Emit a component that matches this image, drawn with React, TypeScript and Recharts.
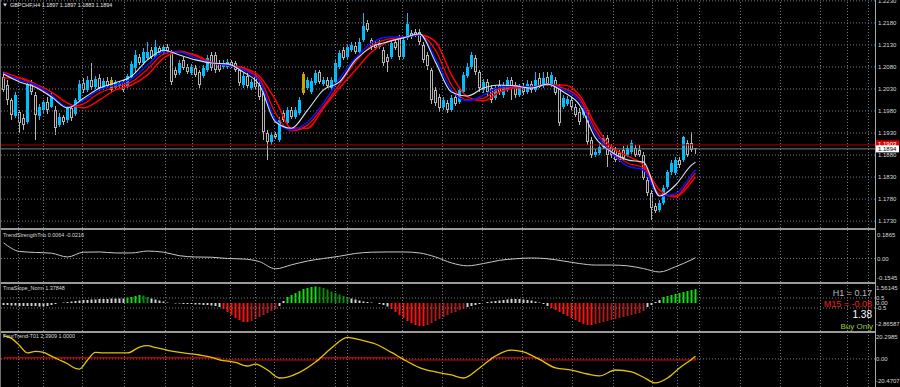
import React from "react";
import { ComposedChart, Bar, Line, XAxis, YAxis, ReferenceLine, Cell } from "recharts";

// ---------- price candles (GBPCHF H4) ----------
const opens = [1.2057,1.2039,1.2005,1.1969,1.1978,1.1964,1.1955,1.2041,1.2016,1.1969,1.1982,1.2000,1.1989,1.1982,1.1948,1.1966,1.1960,1.1987,1.1973,1.2005,
1.2044,1.2028,1.2050,1.2034,1.2055,1.2032,1.2048,1.2050,1.2032,1.2037,1.2046,1.2037,1.2057,1.2078,1.2103,1.2089,1.2100,1.2118,1.2103,1.2123,
1.2112,1.2125,1.2114,1.2073,1.2066,1.2096,1.2080,1.2066,1.2078,1.2068,1.2059,1.2073,1.2107,1.2107,1.2089,1.2080,1.2080,1.2091,1.2089,1.2073,
1.2039,1.2059,1.2032,1.2059,1.2039,1.2021,1.1930,1.1910,1.1928,1.1914,1.1975,1.1953,1.1982,1.1966,1.1975,1.2021,1.2032,1.2023,1.2044,1.2068,
1.2041,1.2050,1.2032,1.2046,1.2080,1.2118,1.2103,1.2118,1.2128,1.2114,1.2141,1.2180,1.2141,1.2132,1.2125,1.2118,1.2103,1.2103,1.2137,1.2148,
1.2103,1.2146,1.2157,1.2159,1.2159,1.2130,1.2107,1.2073,1.2028,1.2012,1.1989,1.1998,1.1982,1.2012,1.2000,1.2023,1.2059,1.2080,1.2100,1.2068,
1.2028,1.2046,1.2032,1.2009,1.2039,1.2016,1.2028,1.2050,1.2039,1.2016,1.2037,1.2023,1.2041,1.2028,1.2055,1.2037,1.2057,1.2039,1.2050,1.2034,
1.1989,1.1996,1.2005,1.1989,1.1978,1.1971,1.1982,1.1914,1.1880,1.1885,1.1898,1.1919,1.1898,1.1892,1.1885,1.1892,1.1880,1.1887,1.1896,1.1892,
1.1880,1.1823,1.1794,1.1764,1.1755,1.1771,1.1808,1.1842,1.1839,1.1869,1.1869,1.1907,1.1907,1.1897];
const highs = [1.2068,1.2050,1.2009,1.2023,1.1982,1.1973,1.2050,1.2050,1.2023,1.1996,1.2005,1.2012,1.2023,1.1991,1.1975,1.1971,1.1991,1.1994,1.2009,1.2050,
1.2055,1.2059,1.2089,1.2059,1.2064,1.2055,1.2057,1.2057,1.2050,1.2048,1.2050,1.2064,1.2094,1.2118,1.2109,1.2123,1.2137,1.2125,1.2141,1.2128,
1.2130,1.2132,1.2118,1.2080,1.2096,1.2103,1.2087,1.2087,1.2084,1.2073,1.2084,1.2107,1.2114,1.2114,1.2096,1.2096,1.2098,1.2096,1.2094,1.2078,
1.2066,1.2066,1.2053,1.2066,1.2046,1.2028,1.1937,1.1932,1.1932,1.1966,1.1982,1.1989,1.1989,1.1989,1.2012,1.2068,1.2057,1.2055,1.2073,1.2073,
1.2057,1.2057,1.2057,1.2096,1.2118,1.2125,1.2132,1.2137,1.2137,1.2146,1.2202,1.2187,1.2146,1.2139,1.2141,1.2125,1.2109,1.2141,1.2141,1.2153,
1.2148,1.2202,1.2164,1.2166,1.2166,1.2137,1.2114,1.2078,1.2034,1.2019,1.2012,1.2005,1.2016,1.2019,1.2034,1.2068,1.2089,1.2114,1.2107,1.2073,
1.2053,1.2053,1.2039,1.2039,1.2050,1.2046,1.2057,1.2057,1.2046,1.2041,1.2044,1.2050,1.2048,1.2068,1.2066,1.2068,1.2068,1.2068,1.2057,1.2041,
1.2016,1.2014,1.2012,1.1996,1.1987,1.1994,1.1987,1.1921,1.1894,1.1905,1.1925,1.1925,1.1905,1.1898,1.1892,1.1901,1.1903,1.1914,1.1903,1.1903,
1.1887,1.1830,1.1801,1.1771,1.1778,1.1812,1.1846,1.1869,1.1876,1.1876,1.1923,1.1914,1.1932,1.1897];
const lows = [1.2023,1.1994,1.1960,1.1964,1.1930,1.1937,1.1950,1.2016,1.1914,1.1960,1.1975,1.1973,1.1987,1.1925,1.1944,1.1948,1.1953,1.1957,1.1969,1.2000,
1.2021,1.2023,1.2028,1.2030,1.2025,1.2028,1.2032,1.2023,1.2028,1.2032,1.2023,1.2032,1.2053,1.2068,1.2084,1.2084,1.2096,1.2098,1.2100,1.2107,
1.2107,1.2112,1.2039,1.2055,1.2062,1.2073,1.2064,1.2062,1.2057,1.2032,1.2055,1.2068,1.2071,1.2066,1.2068,1.2075,1.2075,1.2078,1.2068,1.2037,
1.2032,1.2032,1.2028,1.2030,1.2005,1.1914,1.1869,1.1903,1.1916,1.1910,1.1955,1.1948,1.1962,1.1962,1.1971,1.2016,1.2028,1.2019,1.2039,1.2041,
1.2037,1.2032,1.2028,1.2041,1.2075,1.2096,1.2098,1.2114,1.2109,1.2109,1.2137,1.2159,1.2118,1.2118,1.2121,1.2082,1.2068,1.2098,1.2118,1.2096,
1.2098,1.2141,1.2143,1.2148,1.2130,1.2089,1.2073,1.1996,1.1991,1.1978,1.1982,1.1975,1.1978,1.1991,1.1996,1.2019,1.2055,1.2075,1.2062,1.2023,
1.2021,1.2014,1.1998,1.2005,1.2016,1.2009,1.2023,1.2005,1.2009,1.2012,1.2016,1.2019,1.2021,1.2023,1.2032,1.2032,1.2037,1.2034,1.2016,1.1946,
1.1985,1.1991,1.1982,1.1966,1.1948,1.1964,1.1903,1.1873,1.1876,1.1880,1.1894,1.1853,1.1873,1.1864,1.1864,1.1869,1.1876,1.1882,1.1876,1.1876,
1.1823,1.1787,1.1733,1.1748,1.1751,1.1767,1.1803,1.1835,1.1835,1.1851,1.1864,1.1876,1.1887,1.1883];
const closes = [1.2028,1.2005,1.1971,1.2016,1.1953,1.1948,1.2041,1.2023,1.1971,1.1989,1.2000,1.1982,1.2014,1.1941,1.1966,1.1955,1.1987,1.1964,1.2005,1.2041,
1.2028,1.2050,1.2034,1.2053,1.2032,1.2048,1.2037,1.2028,1.2046,1.2044,1.2028,1.2059,1.2087,1.2107,1.2089,1.2114,1.2114,1.2103,1.2125,1.2112,
1.2125,1.2116,1.2046,1.2062,1.2089,1.2078,1.2068,1.2080,1.2062,1.2039,1.2078,1.2100,1.2078,1.2073,1.2073,1.2089,1.2091,1.2082,1.2073,1.2044,
1.2059,1.2037,1.2046,1.2034,1.2012,1.1932,1.1910,1.1925,1.1921,1.1960,1.1960,1.1982,1.1966,1.1982,1.2005,1.2064,1.2050,1.2048,1.2066,1.2046,
1.2050,1.2037,1.2050,1.2089,1.2112,1.2100,1.2125,1.2130,1.2114,1.2137,1.2173,1.2164,1.2125,1.2123,1.2134,1.2089,1.2091,1.2134,1.2123,1.2103,
1.2141,1.2178,1.2148,1.2153,1.2137,1.2096,1.2082,1.2005,1.1998,1.1987,1.2005,1.1982,1.2009,1.1996,1.2028,1.2062,1.2080,1.2107,1.2068,1.2032,
1.2046,1.2023,1.2005,1.2032,1.2023,1.2039,1.2050,1.2032,1.2016,1.2034,1.2023,1.2041,1.2028,1.2050,1.2037,1.2055,1.2041,1.2062,1.2021,1.1953,
1.2009,1.2007,1.1989,1.1971,1.1955,1.1987,1.1910,1.1880,1.1887,1.1898,1.1919,1.1880,1.1880,1.1869,1.1869,1.1873,1.1896,1.1907,1.1880,1.1880,
1.1828,1.1794,1.1760,1.1753,1.1771,1.1805,1.1842,1.1862,1.1869,1.1857,1.1921,1.1880,1.1892,1.1894];
const yellowCandles = [27, 75];

// ---------- moving averages (sampled every 4 bars) ----------
const maIdx = [0,4,8,12,16,20,24,28,32,36,40,44,48,52,56,60,64,68,72,76,80,84,88,92,96,100,104,108,112,116,120,124,128,132,136,140,144,148,152,156,160,164,168,172,173];
const maWhite = [1.2064,1.2046,1.2034,1.2012,1.1987,1.2009,1.2032,1.2044,1.2059,1.2096,1.2118,1.2107,1.2096,1.2089,1.2087,1.2068,1.2039,1.1955,1.1941,1.1982,1.2028,1.2046,1.2096,1.2125,1.2137,1.2146,1.2155,1.2091,1.2023,1.2014,1.2032,1.2039,1.2037,1.2032,1.2041,1.2023,1.1994,1.1919,1.1887,1.1869,1.1864,1.1787,1.1812,1.1857,1.1864];
const maBlue = [1.2066,1.2050,1.2039,1.2016,1.1989,1.2005,1.2028,1.2039,1.2053,1.2084,1.2114,1.2114,1.2100,1.2089,1.2084,1.2073,1.2048,1.1960,1.1937,1.1955,1.1998,1.2053,1.2100,1.2134,1.2148,1.2148,1.2153,1.2100,1.2028,1.2003,1.2016,1.2034,1.2037,1.2034,1.2041,1.2028,1.2003,1.1930,1.1885,1.1855,1.1846,1.1787,1.1792,1.1835,1.1846];
const maRedFast = [1.2068,1.2055,1.2037,1.2014,1.1989,1.1996,1.2021,1.2034,1.2046,1.2075,1.2109,1.2116,1.2105,1.2089,1.2084,1.2075,1.2053,1.1975,1.1935,1.1948,1.1991,1.2041,1.2091,1.2128,1.2143,1.2148,1.2153,1.2118,1.2039,1.2005,1.2009,1.2030,1.2034,1.2034,1.2041,1.2032,1.2009,1.1937,1.1889,1.1862,1.1851,1.1792,1.1787,1.1828,1.1839];
const maRedSlow = [1.2055,1.2055,1.2041,1.2023,1.1998,1.1987,1.2005,1.2028,1.2039,1.2062,1.2100,1.2114,1.2107,1.2091,1.2084,1.2078,1.2059,1.2005,1.1941,1.1941,1.1987,1.2032,1.2073,1.2114,1.2137,1.2146,1.2153,1.2137,1.2062,1.2012,1.2003,1.2023,1.2032,1.2034,1.2039,1.2039,1.2016,1.1948,1.1898,1.1878,1.1857,1.1801,1.1785,1.1819,1.1830];
const redLevel = 1.1903;
const bidLevel = 1.1894;
const priceTicks = [1.223, 1.218, 1.213, 1.208, 1.203, 1.198, 1.193, 1.188, 1.183, 1.178, 1.173];

// ---------- indicator windows ----------
const trendStrength = [0.125,0.056,0.048,0.042,0.012,0.05,0.052,0.044,0.044,0.059,0.05,0.022,0.012,0.01,0.0,-0.004,-0.025,-0.082,-0.05,-0.02,0.0,0.018,0.04,0.05,0.052,0.052,0.044,0.012,-0.035,-0.058,-0.04,-0.015,-0.002,0.004,-0.002,-0.02,-0.04,-0.052,-0.052,-0.058,-0.08,-0.107,-0.065,-0.01,0.0064];
const tsTicks = [0.1865, 0, -0.1545];

const tmaSlope = [-0.2,-0.2,-0.25,-0.25,-0.3,-0.3,-0.3,-0.3,-0.3,-0.35,-0.35,-0.3,
-0.2,-0.1,0,0.05,0.1,0.15,0.2,0.25,0.3,0.3,0.35,0.35,0.4,0.4,0.4,0.45,0.45,0.45,0.45,
0.55,0.6,0.7,0.8,0.75,0.6,
0.45,0.35,0.25,0.15,
0.05,0,-0.05,-0.05,-0.1,-0.1,-0.1,-0.15,-0.15,-0.2,-0.2,-0.25,-0.3,-0.4,
-0.6,-0.9,-1.2,-1.5,-1.7,-1.9,-1.9,-1.8,-1.6,-1.4,-1.2,-1.0,-0.8,-0.6,
-0.3,0.2,
0.6,0.8,1.0,1.2,1.4,1.5,1.6,1.65,1.6,1.5,1.35,1.15,1.0,0.85,0.7,0.6,
0.45,0.35,0.25,0.15,0.1,0.05,0,-0.1,-0.2,-0.35,
-0.6,-0.9,-1.2,-1.5,-1.8,-2.0,-2.2,-2.3,-2.3,-2.2,-2.0,-1.8,-1.6,-1.4,-1.2,-1.0,-0.9,-0.7,-0.6,
-0.4,-0.3,-0.2,-0.1,0,0.1,0.15,0.2,0.25,0.3,
0.35,0.4,0.4,0.4,0.35,0.3,0.25,0.15,0.05,
-0.1,-0.3,-0.5,-0.7,-0.9,-1.1,-1.3,-1.5,-1.7,-1.9,-2.1,-2.2,-2.2,-2.1,-2.0,-1.9,-1.8,-1.7,-1.6,-1.5,-1.4,-1.3,-1.2,-1.1,-1.0,-0.8,
-0.4,-0.2,0.1,0.3,
0.6,0.7,0.8,0.9,1.0,1.1,1.2,1.3,1.37848];
const tmaTicks = [1.56145, 0.5, 0, -0.5, -2.86587];
const tmaTickText = ["1.56145", "0.5", "0.00", "-0.5", "-2.86587"];

const fourTrendIdx = [0,2,4,6,8,10,12,14,16,18,19,21,23,25,28,31,34,36,38,41,45,49,52,54,58,61,63,66,69,71,74,78,82,86,89,93,97,100,104,108,112,115,119,123,127,130,134,138,142,146,149,153,157,160,163,166,169,172,173];
const fourTrendVal = [21.5,19.0,12.5,5.5,7.0,6.0,2.5,-1.0,-4.5,-8.8,-9.4,-1.0,6.0,5.5,5.5,5.5,11.0,12.3,10.5,8.0,5.5,3.6,1.5,-0.8,-3.3,-6.6,-4.8,-10.3,-17.7,-16.8,-12.5,-2.9,10.1,20.0,17.8,13.8,6.0,-0.5,-8.0,-12.1,-14.9,-17.7,-8.4,2.7,8.2,6.4,-0.5,-8.4,-10.3,-14.0,-15.8,-10.3,-12.1,-17.0,-22.3,-17.7,-8.4,-0.5,2.3909];
const signalIdx = [0, 54, 79, 100, 122, 134, 173];
const signalVal = [1, -1, 1, -1, 1, -1, 1];
const ftTicks = [20.2985, 0, -20.4707];

// vertical grid (bar positions, incl. the empty future area)
const gridBars = [3.75, 10.0, 19.75, 30.25, 40.5, 47.25, 56.75, 63.0, 67.75, 83.0, 86.0, 99.75, 109.75, 119.75, 129.75, 142.25, 152.5, 162.25, 168.5, 174.0, 184.25, 194.25, 204.25, 211.0, 216.25];

// ---------- build rows ----------
const rows: any[] = opens.map((o, i) => ({
  i,
  o, h: highs[i], l: lows[i], c: closes[i],
  range: [lows[i], highs[i]],
  yellow: yellowCandles.includes(i),
  slope: tmaSlope[i],
}));
maIdx.forEach((b, k) => {
  rows[b].white = maWhite[k];
  rows[b].blue = maBlue[k];
  rows[b].redFast = maRedFast[k];
  rows[b].redSlow = maRedSlow[k];
  rows[b].ts = trendStrength[k];
});
fourTrendIdx.forEach((b, k) => { rows[b].ft = fourTrendVal[k]; });
signalIdx.forEach((b, k) => { rows[b].sig = signalVal[k]; });

const BG = "#000000";
const GRID = "#6f7a85";
const AXT = "#d8d8d8";
const BULL = "#00bfff";
const BEAR = "#b4b4b4";
const YEL = "#c8a800";
const FONT = "'Liberation Sans', Arial, sans-serif";
const X_DOMAIN: [number, number] = [-0.875, 217.875];

const Candle = (props: any) => {
  let { x, y, width, height, payload } = props;
  if (height < 0) { y = y + height; height = -height; }
  const { o, h, l, c, yellow } = payload;
  const span = h - l || 1e-9;
  const k = height / span;
  const top = y + (h - Math.max(o, c)) * k;
  const bot = y + (h - Math.min(o, c)) * k;
  const bh = Math.max(1, bot - top);
  const bull = c >= o;
  const col = yellow ? YEL : bull ? BULL : BEAR;
  const cx = Math.round(x + width / 2 - 0.5);
  return (
    <g shapeRendering="crispEdges">
      <rect x={cx} y={y} width={1} height={Math.max(0, top - y)} fill={col} />
      <rect x={cx} y={top + bh} width={1} height={Math.max(0, y + height - top - bh)} fill={col} />
      <rect x={x} y={top} width={width} height={bh} fill={col} />
      {!bull && !yellow && bh > 2 ? (
        <rect x={x + 1} y={top + 1} width={Math.max(0, width - 2)} height={bh - 2} fill="#000" />
      ) : null}
    </g>
  );
};

const PriceTag = (fill: string, textFill: string, txt: string, dy: number) => (props: any) => {
  const vb = props.viewBox || {};
  const x0 = vb.x + vb.width + 1;
  const y0 = vb.y + dy;
  return (
    <g>
      <rect x={x0} y={y0 - 3.5} width={23} height={7} fill={fill} />
      <text x={x0 + 2} y={y0 + 2.2} fontSize={6} fontFamily={FONT} fill={textFill}>{txt}</text>
    </g>
  );
};

const vGrid = () =>
  gridBars.map((g) => (
    <ReferenceLine key={"vg" + g} x={g} stroke={GRID} strokeDasharray="1 2" strokeWidth={1} />
  ));

const xAxis = <XAxis type="number" dataKey="i" domain={X_DOMAIN} hide allowDataOverflow />;

const tickStyle = { fill: AXT, fontSize: 6, fontFamily: FONT };

function MainPanel() {
  return (
    <ComposedChart width={900} height={228} data={rows} margin={{ top: 0, right: 0, bottom: 0, left: 0 }}>
      {xAxis}
      <YAxis orientation="right" width={25} domain={[1.17144, 1.2232]} ticks={priceTicks} interval={0}
        tickLine={false} tickSize={0} axisLine={false} tickMargin={3} tick={tickStyle} allowDataOverflow
        tickFormatter={(v: number) => v.toFixed(4)} />
      {vGrid()}
      {priceTicks.map((t) => (
        <ReferenceLine key={"hg" + t} y={t} stroke={GRID} strokeDasharray="1 2" />
      ))}
      <Bar dataKey="range" barSize={3} shape={Candle} isAnimationActive={false} />
      <Line dataKey="redSlow" stroke="#ff0000" strokeWidth={1.5} dot={false} activeDot={false} connectNulls type="monotone" isAnimationActive={false} />
      <Line dataKey="redFast" stroke="#ff0000" strokeWidth={1.3} dot={false} activeDot={false} connectNulls type="monotone" isAnimationActive={false} />
      <Line dataKey="blue" stroke="#0a14ff" strokeWidth={1.5} dot={false} activeDot={false} connectNulls type="monotone" isAnimationActive={false} />
      <Line dataKey="white" stroke="#cfe6f0" strokeWidth={1.1} dot={false} activeDot={false} connectNulls type="monotone" isAnimationActive={false} />
      <ReferenceLine y={redLevel} stroke="#b00000" strokeWidth={1} label={PriceTag("#e00000", "#ffffff", "1.1903", -1)} />
      <ReferenceLine y={bidLevel} stroke="#808080" strokeWidth={1} label={PriceTag("#ffffff", "#000000", "1.1894", 0)} />
    </ComposedChart>
  );
}

function TrendStrengthPanel() {
  return (
    <ComposedChart width={900} height={52} data={rows} margin={{ top: 0, right: 0, bottom: 0, left: 0 }}>
      {xAxis}
      <YAxis orientation="right" width={25} domain={[-0.1864, 0.226]} ticks={tsTicks} interval={0}
        tickLine={false} tickSize={0} axisLine={false} tickMargin={2} tick={tickStyle} allowDataOverflow
        tickFormatter={(v: number) => (v === 0 ? "0.00" : String(v))} />
      {vGrid()}
      <ReferenceLine y={0} stroke={GRID} strokeDasharray="1 2" />
      <Line dataKey="ts" stroke="#c8c8c8" strokeWidth={1} dot={false} activeDot={false} connectNulls type="monotone" isAnimationActive={false} />
    </ComposedChart>
  );
}

const TmaTick = (props: any) => {
  const { x, y, payload, index } = props;
  const yy = Math.min(y, 40);
  return (
    <text x={x} y={yy} dy="0.355em" fontSize={6} fontFamily={FONT} fill={AXT}>
      {tmaTickText[index] ?? String(payload.value)}
    </text>
  );
};

function slopeColor(i: number) {
  const v = tmaSlope[i];
  const p = i > 0 ? tmaSlope[i - 1] : v;
  if (v >= 0.5) return v >= p ? "#11dd11" : "#0a8a0a";
  if (v <= -0.5) return v <= p ? "#ff1010" : "#a81a1a";
  return "#d0d0d0";
}

function TmaPanel() {
  return (
    <ComposedChart width={900} height={47} data={rows} margin={{ top: 0, right: 0, bottom: 0, left: 0 }}>
      {xAxis}
      <YAxis orientation="right" width={25} domain={[-2.8, 1.9]} ticks={tmaTicks} interval={0}
        tickLine={false} tickSize={0} axisLine={false} tickMargin={1} tick={<TmaTick />} allowDataOverflow />
      {vGrid()}
      <ReferenceLine y={0.5} stroke={GRID} strokeDasharray="1 2" />
      <ReferenceLine y={-0.5} stroke={GRID} strokeDasharray="1 2" />
      <Bar dataKey="slope" barSize={2} isAnimationActive={false}>
        {rows.map((r, i) => (
          <Cell key={"s" + i} fill={slopeColor(i)} />
        ))}
      </Bar>
    </ComposedChart>
  );
}

function FourTrendPanel() {
  return (
    <ComposedChart width={900} height={54} data={rows} margin={{ top: 0, right: 0, bottom: 0, left: 0 }}>
      {xAxis}
      <YAxis orientation="right" width={25} domain={[-26.04, 24.0]} ticks={ftTicks} interval={0}
        tickLine={false} tickSize={0} axisLine={false} tickMargin={1} tick={tickStyle} allowDataOverflow
        tickFormatter={(v: number) => (v === 0 ? "0.00" : String(v))} />
      {vGrid()}
      <ReferenceLine y={0} stroke={GRID} strokeDasharray="1 2" />
      <Line dataKey="sig" stroke="#e00000" strokeWidth={1.2} dot={false} activeDot={false} connectNulls type="stepAfter" isAnimationActive={false} />
      <Line dataKey="ft" stroke="#e6c200" strokeWidth={1.3} dot={false} activeDot={false} connectNulls type="monotone" isAnimationActive={false} />
    </ComposedChart>
  );
}

export default function App() {
  const abs = (top: number, h: number): React.CSSProperties => ({ position: "absolute", left: 0, top, width: 900, height: h });
  return (
    <div style={{ position: "absolute", left: 0, top: 0, width: 900, height: 387, background: BG, overflow: "hidden" }}>
      <div style={abs(0, 228)}><MainPanel /></div>
      <div style={abs(230, 52)}><TrendStrengthPanel /></div>
      <div style={abs(284, 47)}><TmaPanel /></div>
      <div style={abs(333, 54)}><FourTrendPanel /></div>
      {/* frame */}
      <div style={{ position: "absolute", left: 0, top: 228, width: 876, height: 2, background: "#9a9a9a" }} />
      <div style={{ position: "absolute", left: 0, top: 282, width: 876, height: 2, background: "#9a9a9a" }} />
      <div style={{ position: "absolute", left: 0, top: 331, width: 876, height: 2, background: "#9a9a9a" }} />
      <div style={{ position: "absolute", left: 875, top: 0, width: 1, height: 387, background: "#a8a8a8" }} />
      <div style={{ position: "absolute", left: 0, top: 0, width: 1, height: 387, background: "#707070" }} />
      <svg width={900} height={387} style={{ position: "absolute", left: 0, top: 0, pointerEvents: "none" }}>
        <g fontFamily={FONT}>
          <polygon points="3,3.5 7,3.5 5,6.5" fill="#e0e0e0" />
          <text x={10} y={7} fontSize={5.4} fill="#e8e8e8">GBPCHF,H4  1.1897 1.1897 1.1883 1.1894</text>
          <text x={3} y={237} fontSize={5.4} fill="#d8d8d8">TrendStrengthTrio 0.0064 -0.0216</text>
          <text x={3} y={290} fontSize={5.4} fill="#d8d8d8">TmaSlope_Norm 1.37848</text>
          <text x={3} y={338} fontSize={5.4} fill="#d8d8d8">FourTrend-T01 2.3909 1.0000</text>
          <text x={872} y={296} fontSize={9} fill="#b8b8b8" textAnchor="end">H1 = 0.17</text>
          <text x={872} y={306.5} fontSize={9} fill="#ff1a1a" textAnchor="end">M15 = -0.08</text>
          <text x={872} y={318} fontSize={10} fill="#ffffff" textAnchor="end">1.38</text>
          <text x={873} y={328.5} fontSize={8} fill="#9acd32" textAnchor="end">Buy Only</text>
        </g>
      </svg>
    </div>
  );
}
